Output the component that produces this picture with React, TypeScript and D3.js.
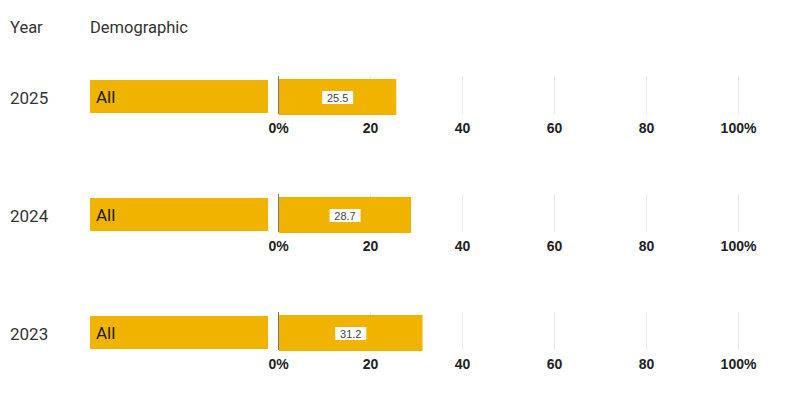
import React from "react";
import * as d3 from "d3";

const years = ["2025", "2024", "2023"];
const demographics = ["All", "All", "All"];
const values = [25.5, 28.7, 31.2];
const ticks = [0, 20, 40, 60, 80, 100];
const tickLabels = ["0%", "20", "40", "60", "80", "100%"];

const W = 791;
const H = 405;
const BAR = "#F0B400";

export default function App() {
  const x = d3.scaleLinear().domain([0, 100]).range([279, 739]);
  const y = d3.scalePoint<string>().domain(years).range([74, 310]);
  const labelFont = "Roboto, 'Noto Sans', sans-serif";
  const tickFont = "'Liberation Sans', Arial, sans-serif";
  return (
    <svg width={W} height={H} style={{ position: "absolute", left: 0, top: 0 }}>
      <rect width={W} height={H} fill="#fff" />
      <text x={10} y={33} fontFamily={labelFont} fontSize={16.5} fill="#333">Year</text>
      <text x={90} y={33} fontFamily={labelFont} fontSize={16.5} fill="#333">Demographic</text>
      {years.map((yr, i) => {
        const y0 = y(yr) as number;
        const v = values[i];
        const label = v.toFixed(1);
        const bw = label.length * 6 + 7;
        const cx = (x(0) + x(v)) / 2;
        return (
          <g key={yr}>
            <text x={10} y={y0 + 30} fontFamily={labelFont} fontSize={17} fill="#333">{yr}</text>
            <rect x={90} y={y0 + 6} width={178} height={33} fill={BAR} />
            <text x={96} y={y0 + 29} fontFamily={labelFont} fontSize={17} fill="#1a1a1a">{demographics[i]}</text>
            {ticks.map((t) => (
              <line
                key={t}
                x1={x(t) - 0.5}
                x2={x(t) - 0.5}
                y1={y0 + 2}
                y2={y0 + 40}
                stroke={t === 0 ? "#777" : "#e8e8e8"}
                strokeWidth={1}
              />
            ))}
            <rect x={x(0)} y={y0 + 5} width={x(v) - x(0)} height={36} fill={BAR} />
            <rect x={cx - bw / 2} y={y0 + 17} width={bw} height={13} fill="#fff" />
            <text x={cx} y={y0 + 27.5} textAnchor="middle" fontFamily={tickFont} fontSize={11} fill="#444">{label}</text>
            {ticks.map((t, j) => (
              <text
                key={t}
                x={x(t) - 0.5}
                y={y0 + 59}
                textAnchor="middle"
                fontFamily={tickFont}
                fontWeight="bold"
                fontSize={14}
                fill="#222"
              >
                {tickLabels[j]}
              </text>
            ))}
          </g>
        );
      })}
    </svg>
  );
}
